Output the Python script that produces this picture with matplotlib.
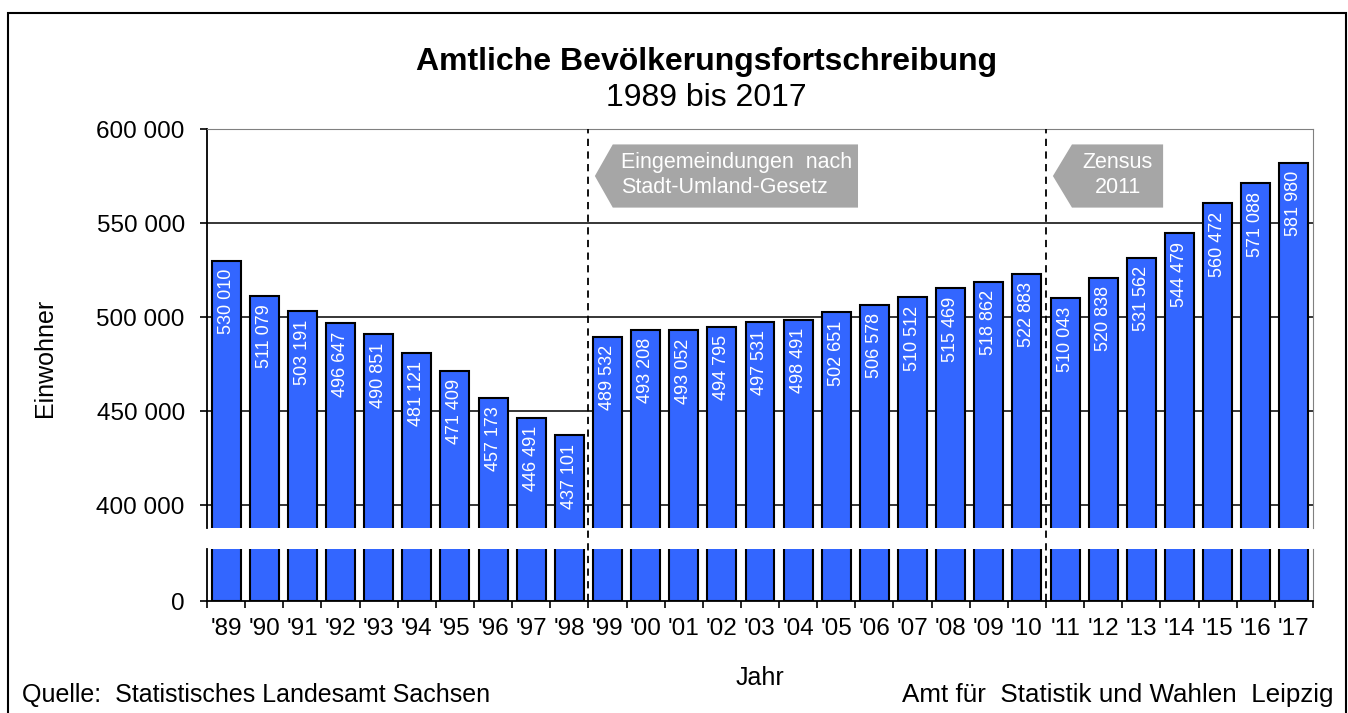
import matplotlib.pyplot as plt
from matplotlib.patches import Polygon, Rectangle
from matplotlib.lines import Line2D
import matplotlib.transforms as mtransforms
from matplotlib.ticker import FuncFormatter

plt.rcParams['font.family'] = ['Liberation Sans', 'DejaVu Sans']

# Einwohner 1989 bis 2017
years = ["'89", "'90", "'91", "'92", "'93", "'94", "'95", "'96", "'97", "'98",
         "'99", "'00", "'01", "'02", "'03", "'04", "'05", "'06", "'07", "'08",
         "'09", "'10", "'11", "'12", "'13", "'14", "'15", "'16", "'17"]
population = [530010, 511079, 503191, 496647, 490851, 481121, 471409, 457173,
              446491, 437101, 489532, 493208, 493052, 494795, 497531, 498491,
              502651, 506578, 510512, 515469, 518862, 522883, 510043, 520838,
              531562, 544479, 560472, 571088, 581980]
upper_ticks = [400000, 450000, 500000, 550000, 600000]
breaks = [9.5, 21.5]  # Eingemeindungen, Zensus 2011
notes = ["Eingemeindungen  nach\nStadt-Umland-Gesetz", "Zensus\n2011"]

bar_color = "#3366ff"
grey = "#a6a6a6"

def fmt(v, pos=None):
    return f"{int(v):,}".replace(",", " ")

fig = plt.figure(figsize=(13.48, 7.13), dpi=100)
ax = fig.add_axes([0.15356, 0.25947, 0.82047, 0.5596])
ax_low = fig.add_axes([0.15356, 0.15708, 0.82047, 0.07293])

x = list(range(len(years)))
for a in (ax, ax_low):
    a.bar(x, population, width=0.76, color=bar_color, edgecolor="black",
          linewidth=1.5, zorder=3)
    a.set_xlim(-0.5, len(years) - 0.5)
    a.spines['right'].set_color("#808080")
    a.spines['left'].set_linewidth(1.3)

# upper part
ax.set_ylim(387800, 600000)
ax.set_yticks(upper_ticks)
ax.yaxis.set_major_formatter(FuncFormatter(fmt))
ax.grid(axis='y', color='black', linewidth=1.1, zorder=0)
ax.spines['top'].set_color("#808080")
ax.spines['bottom'].set_visible(False)
ax.set_xticks([])
ax.tick_params(axis='y', labelsize=17.5, length=5, width=1.2, direction='out', pad=11)
ax.set_ylabel("Einwohner", fontsize=18)
ax.yaxis.set_label_coords(-0.136, 0.426)

for i, v in enumerate(population):
    ax.annotate(fmt(v), (i, v), xytext=(0, -6), textcoords='offset points',
                rotation=90, ha='center', va='top', color='white', fontsize=13,
                zorder=4)

# lower part
ax_low.set_ylim(0, 60000)
ax_low.set_yticks([0])
ax_low.spines['top'].set_visible(False)
ax_low.spines['bottom'].set_linewidth(1.3)
ax_low.set_xticks([i - 0.5 for i in range(len(years) + 1)])
ax_low.set_xticklabels([])
ax_low.set_xticks(x, minor=True)
ax_low.set_xticklabels(years, minor=True)
ax_low.tick_params(axis='x', which='major', length=5, width=1.2, direction='out')
ax_low.tick_params(axis='x', which='minor', length=0, labelsize=17.5, pad=12)
ax_low.tick_params(axis='y', labelsize=17.5, length=5, width=1.2, pad=11)
ax_low.set_xlabel("Jahr", fontsize=18, labelpad=19)

# dashed marker lines across both parts
trans = mtransforms.blended_transform_factory(ax.transData, fig.transFigure)
for b in breaks:
    fig.add_artist(Line2D([b, b], [0.15708, 0.81907], transform=trans,
                          color='black', linestyle=(0, (4, 3)), linewidth=1.3,
                          zorder=5))

# grey arrow boxes
shapes = [
    (9.67, 10.14, 16.57, 575000),
    (21.68, 22.18, 24.57, 575000),
]
for k, ((tip, shoulder, right, mid), note) in enumerate(zip(shapes, notes)):
    top, bot = mid + 16800, mid - 16800
    ax.add_patch(Polygon([(tip, mid), (shoulder, top), (right, top),
                          (right, bot), (shoulder, bot)], closed=True,
                         facecolor=grey, edgecolor='none', zorder=6))
    if k == 0:
        ax.text(shoulder + 0.21, mid + 500, note, ha='left', va='center',
                color='white', fontsize=15.5, linespacing=1.2, zorder=7)
    else:
        ax.text((shoulder + right) / 2, mid + 500, note, ha='center',
                va='center', color='white', fontsize=15.5, linespacing=1.2,
                zorder=7)

# titles and footer
fig.text(0.524, 0.913, "Amtliche Bevölkerungsfortschreibung", ha='center',
         va='center', fontsize=23, fontweight='bold')
fig.text(0.524, 0.862, "1989 bis 2017", ha='center', va='center', fontsize=23)
fig.text(0.016, 0.025, "Quelle:  Statistisches Landesamt Sachsen", ha='left',
         va='center', fontsize=18)
fig.text(0.989, 0.025, "Amt für  Statistik und Wahlen  Leipzig", ha='right',
         va='center', fontsize=18.7)

# outer frame
fig.add_artist(Rectangle((8 / 1348, -0.02), 1338 / 1348, 1 - 13 / 713 + 0.02,
                         transform=fig.transFigure, fill=False,
                         edgecolor='black', linewidth=1.5, clip_on=False))

fig.savefig("out.png", dpi=100)
